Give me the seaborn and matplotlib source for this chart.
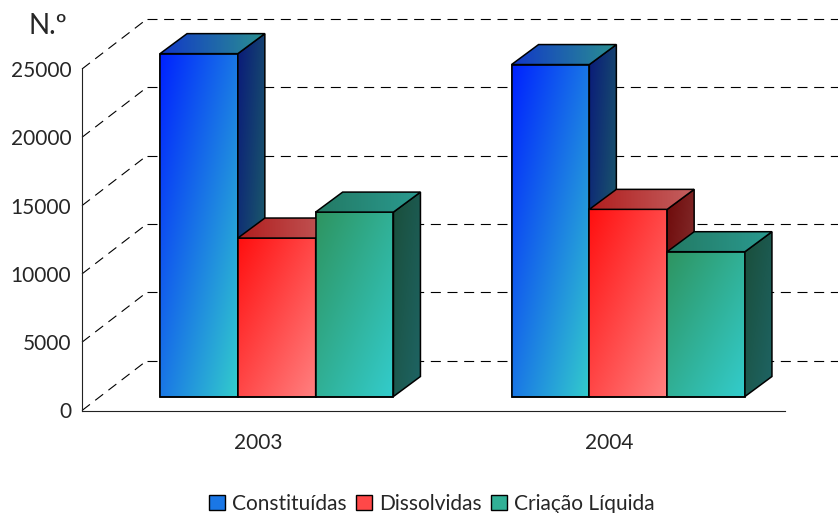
import numpy as np
import pandas as pd
import matplotlib.pyplot as plt
import seaborn as sns
from matplotlib.patches import Polygon, Patch
from matplotlib.colors import to_rgb

# === data ===
anos = ["2003", "2004"]
series = ["Constituídas", "Dissolvidas", "Criação Líquida"]
constituidas = [25100, 24300]
dissolvidas = [11600, 13700]
criacao = [13500, 10600]
yticks = [0, 5000, 10000, 15000, 20000, 25000]

df = pd.DataFrame({
    "Ano": anos * 3,
    "Tipo": [s for s in series for _ in anos],
    "Valor": constituidas + dissolvidas + criacao,
})

# gradient colours (start, end) for front / side / top faces
faces = {
    "Constituídas": {"front": ("#0022FF", "#33CCCC"), "side": ("#0A1A7A", "#1F6A66"), "top": ("#1238C8", "#2A9090")},
    "Dissolvidas": {"front": ("#FF0F0F", "#FF8080"), "side": ("#6E0A0A", "#8C3A3A"), "top": ("#B01E1E", "#C46060")},
    "Criação Líquida": {"front": ("#2E9460", "#33CCCC"), "side": ("#1A4E3A", "#1E6464"), "top": ("#237A64", "#2A9A90")},
}
mid = {k: tuple((np.array(to_rgb(v["front"][0])) + np.array(to_rgb(v["front"][1]))) / 2) for k, v in faces.items()}

# 3d offsets in pixels
BAR_OFF = (19, 14)     # bar front face from the floor front edge
BAR_DEPTH = (27, 20)   # bar depth
WALL = (65, 50)        # floor / side wall depth

sns.set_style("white")
plt.rcParams["font.family"] = ["Lato", "DejaVu Sans"]

fig = plt.figure(figsize=(8.38, 5.13), dpi=100)
ymax = 29000
px_y = 13.66 / 1000
ax_h = ymax * px_y
ax = fig.add_axes([82 / 838, (513 - 410.5) / 513, 703 / 838, ax_h / 513])

sns.barplot(data=df, x="Ano", y="Valor", hue="Tipo", hue_order=series, palette=mid,
            width=0.664, edgecolor="black", linewidth=1.1, legend=False, ax=ax)
ax.set_xlim(-0.5, 1.5)
ax.set_ylim(0, ymax)


def shift(x, y, d):
    X, Y = ax.transData.transform((x, y))
    return tuple(ax.transData.inverted().transform((X + d[0], Y + d[1])))


def gradient_face(pts, c0, c1, z, mode="diag"):
    pts = np.asarray(pts)
    x0, y0 = pts.min(axis=0)
    x1, y1 = pts.max(axis=0)
    n = 80
    xn = np.linspace(0, 1, n)[None, :]
    yn = np.linspace(0, 1, n)[:, None]
    t = (xn + yn) / 2 if mode == "diag" else xn + 0 * yn
    img = (1 - t)[..., None] * np.array(to_rgb(c0)) + t[..., None] * np.array(to_rgb(c1))
    poly = Polygon(pts, closed=True, facecolor="none", edgecolor="black", lw=1.1, zorder=z + 0.01)
    ax.add_patch(poly)
    im = ax.imshow(img, extent=(x0, x1, y0, y1), origin="upper", aspect="auto",
                   interpolation="bilinear", zorder=z)
    im.set_clip_path(poly)


# === walls: dashed gridlines ===
dash = dict(color="black", lw=0.8, dashes=(9, 6), zorder=1, clip_on=False)
for v in yticks:
    bx, by = shift(-0.5, v, WALL)
    ex, _ = shift(1.5, v, WALL)
    ax.plot([-0.5, bx], [v, by], **dash)
    ax.plot([bx, ex], [by, by], **dash)

# === bars with 3d faces ===
bars = []
for tipo, cont in zip(series, ax.containers):
    for rect in cont:
        bars.append((rect.get_x(), tipo, rect))
bars.sort(key=lambda b: b[0])

for i, (_, tipo, rect) in enumerate(bars):
    x0, yb = shift(rect.get_x(), rect.get_y(), BAR_OFF)
    x1, yt = shift(rect.get_x() + rect.get_width(), rect.get_y() + rect.get_height(), BAR_OFF)
    rect.set_xy((x0, yb))
    rect.set_zorder(2)
    z = 3 + i
    c = faces[tipo]
    gradient_face([(x0, yb), (x1, yb), (x1, yt), (x0, yt)], *c["front"], z)
    gradient_face([(x1, yb), (x1, yt), shift(x1, yt, BAR_DEPTH), shift(x1, yb, BAR_DEPTH)], *c["side"], z + 0.2)
    gradient_face([(x0, yt), (x1, yt), shift(x1, yt, BAR_DEPTH), shift(x0, yt, BAR_DEPTH)], *c["top"], z + 0.4, mode="h")

ax.set_xlim(-0.5, 1.5)
ax.set_ylim(0, ymax)

# === axes ===
for s in ["top", "right"]:
    ax.spines[s].set_visible(False)
for s in ["left", "bottom"]:
    ax.spines[s].set_linewidth(0.8)
    ax.spines[s].set_color("#222222")
ax.spines["left"].set_bounds(0, 25000)
ax.set_yticks(yticks)
ax.set_yticklabels([str(v) for v in yticks])
ax.set_xticks([0, 1])
ax.set_xticklabels(anos)
ax.set_xticks([-0.5, 0.5, 1.5], minor=True)
ax.tick_params(axis="y", direction="out", length=4.3, width=0.8, pad=3.5, labelsize=15, color="#222222")
ax.tick_params(axis="x", which="major", length=0, pad=16, labelsize=15)
ax.tick_params(axis="x", which="minor", direction="out", length=4.3, width=0.8, color="#222222")
ax.set_xlabel("")
ax.set_ylabel("")

fig.text(48 / 838, 1 - 26 / 513, "N.º", ha="center", va="center", fontsize=20)

handles = [Patch(facecolor=mid[s], edgecolor="black", lw=1.0, label=s) for s in series]
fig.legend(handles=handles, loc="center", bbox_to_anchor=(432 / 838, 1 - 504 / 513), ncol=3,
           frameon=False, fontsize=15, handlelength=0.75, handleheight=0.75,
           handletextpad=0.35, columnspacing=0.45, borderpad=0)

fig.savefig("out.png", dpi=100)
